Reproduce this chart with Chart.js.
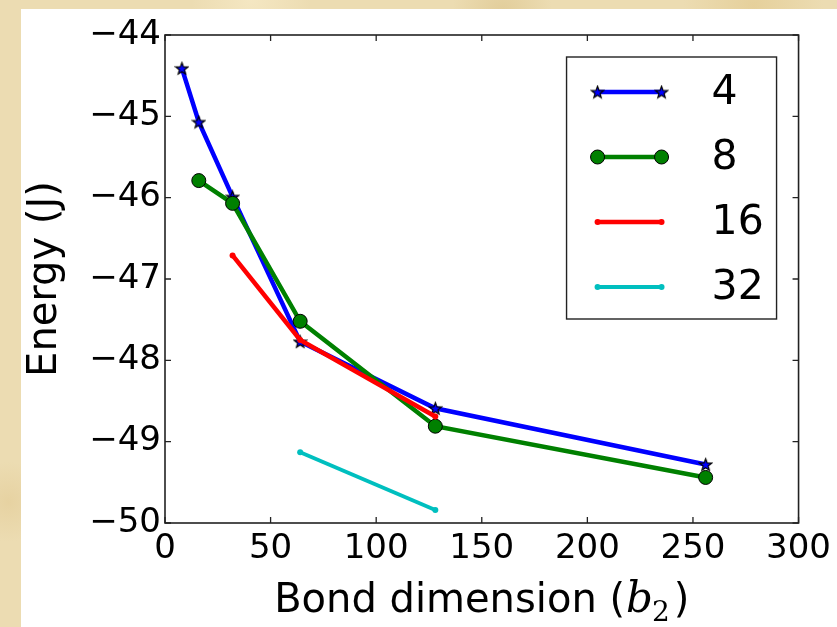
<!DOCTYPE html>
<html>
<head>
<meta charset="utf-8">
<script src="https://cdn.jsdelivr.net/npm/chart.js@4/dist/chart.umd.min.js"></script>
<style>
  html, body { margin: 0; padding: 0; }
  body {
    width: 837px; height: 627px; overflow: hidden; position: relative;
    background-color: #ecdcb2;
    background-image:
      radial-gradient(circle at 10% 20%, rgba(255,245,215,0.6) 0, rgba(255,245,215,0) 60px),
      radial-gradient(circle at 60% 2%, rgba(215,190,130,0.5) 0, rgba(215,190,130,0) 50px),
      radial-gradient(circle at 90% 1%, rgba(225,200,140,0.6) 0, rgba(225,200,140,0) 70px),
      radial-gradient(circle at 1% 80%, rgba(225,200,145,0.5) 0, rgba(225,200,145,0) 40px),
      radial-gradient(circle at 30% 0%, rgba(250,238,205,0.6) 0, rgba(250,238,205,0) 60px);
  }
  #panel { position: absolute; left: 21px; top: 9px; right: 0; bottom: 0; background: #ffffff; }
  #wrap { position: absolute; left: 0; top: 0; width: 837px; height: 627px; }
</style>
</head>
<body>
<div id="panel"></div>
<div id="wrap"><canvas id="c" width="837" height="627"></canvas></div>
<script>
// ---- data ----
const seriesLabels = ['4', '8', '16', '32'];
const bondDims4 = [8, 16, 32, 64, 128, 256];
const energy4   = [-44.41, -45.07, -45.99, -47.77, -48.59, -49.28];
const bondDims8 = [16, 32, 64, 128, 256];
const energy8   = [-45.79, -46.07, -47.52, -48.81, -49.44];
const bondDims16 = [32, 64, 128];
const energy16   = [-46.71, -47.75, -48.69];
const bondDims32 = [64, 128];
const energy32   = [-49.13, -49.84];
const xTicks = [0, 50, 100, 150, 200, 250, 300];
const yTicks = [-50, -49, -48, -47, -46, -45, -44];
const xTitleParts = ['Bond dimension (', 'b', '2', ')'];
const yTitle = 'Energy (J)';

const pts = (xs, ys) => xs.map((x, i) => ({ x: x, y: ys[i] }));
const minus = v => (v < 0 ? '\u2212' : '') + Math.abs(v);

// filled five-pointed star marker (matplotlib '*')
function makeStar(size, fill) {
  const c = document.createElement('canvas');
  c.width = size; c.height = size;
  const g = c.getContext('2d');
  const cx = size / 2, cy = size / 2 + 0.6, R = size / 2 - 1.2, r = R * 0.42;
  g.beginPath();
  for (let i = 0; i < 10; i++) {
    const a = -Math.PI / 2 + i * Math.PI / 5;
    const rad = i % 2 === 0 ? R : r;
    const px = cx + rad * Math.cos(a), py = cy + rad * Math.sin(a);
    i === 0 ? g.moveTo(px, py) : g.lineTo(px, py);
  }
  g.closePath();
  g.fillStyle = fill; g.fill();
  g.lineWidth = 1.2; g.strokeStyle = '#000'; g.stroke();
  return c;
}
const starImg = makeStar(15, '#0000ff');

const datasets = [
  { label: seriesLabels[0], data: pts(bondDims4, energy4), showLine: true,
    borderColor: '#0000ff', borderWidth: 4.5, pointStyle: starImg, pointRadius: 7,
    backgroundColor: '#0000ff', order: 4 },
  { label: seriesLabels[1], data: pts(bondDims8, energy8), showLine: true,
    borderColor: '#008000', borderWidth: 4.5, pointStyle: 'circle', pointRadius: 7,
    pointBackgroundColor: '#008000', pointBorderColor: '#000000', pointBorderWidth: 1,
    backgroundColor: '#008000', order: 3 },
  { label: seriesLabels[2], data: pts(bondDims16, energy16), showLine: true,
    borderColor: '#ff0000', borderWidth: 4.5, pointStyle: 'circle', pointRadius: 3,
    pointBackgroundColor: '#ff0000', pointBorderColor: '#ff0000', pointBorderWidth: 0,
    backgroundColor: '#ff0000', order: 2 },
  { label: seriesLabels[3], data: pts(bondDims32, energy32), showLine: true,
    borderColor: '#00bfbf', borderWidth: 4, pointStyle: 'circle', pointRadius: 3,
    pointBackgroundColor: '#00bfbf', pointBorderColor: '#00bfbf', pointBorderWidth: 0,
    backgroundColor: '#00bfbf', order: 1 }
];

// frame + inward ticks on all four sides (matplotlib style)
const framePlugin = {
  id: 'frame',
  afterDatasetsDraw(chart) {
    const { ctx, chartArea: a, scales } = chart;
    ctx.save();
    ctx.strokeStyle = '#222';
    ctx.lineWidth = 1.3;
    const L = 6;
    ctx.beginPath();
    xTicks.forEach(v => {
      const p = scales.x.getPixelForValue(v);
      ctx.moveTo(p, a.bottom); ctx.lineTo(p, a.bottom - L);
      ctx.moveTo(p, a.top); ctx.lineTo(p, a.top + L);
    });
    yTicks.forEach(v => {
      const p = scales.y.getPixelForValue(v);
      ctx.moveTo(a.left, p); ctx.lineTo(a.left + L, p);
      ctx.moveTo(a.right, p); ctx.lineTo(a.right - L, p);
    });
    ctx.stroke();
    ctx.lineWidth = 1.6;
    ctx.strokeRect(a.left, a.top, a.right - a.left, a.bottom - a.top);
    ctx.restore();
  }
};

// legend box inside the axes, upper right
const legendPlugin = {
  id: 'boxLegend',
  afterDraw(chart) {
    const { ctx, chartArea: a } = chart;
    const w = 210, h = 262;
    const bx = a.right - 22 - w, by = a.top + 22;
    ctx.save();
    ctx.fillStyle = '#fff';
    ctx.fillRect(bx, by, w, h);
    ctx.strokeStyle = '#222'; ctx.lineWidth = 1.4;
    ctx.strokeRect(bx, by, w, h);
    chart.data.datasets.forEach((ds, i) => {
      const y = by + 35 + i * 65;
      const x0 = bx + 31, x1 = bx + 95;
      ctx.strokeStyle = ds.borderColor;
      ctx.lineWidth = ds.borderWidth;
      ctx.beginPath(); ctx.moveTo(x0, y); ctx.lineTo(x1, y); ctx.stroke();
      [x0, x1].forEach(x => {
        if (ds.pointStyle instanceof HTMLCanvasElement) {
          ctx.drawImage(ds.pointStyle, x - ds.pointStyle.width / 2, y - ds.pointStyle.height / 2);
        } else {
          ctx.beginPath();
          ctx.arc(x, y, ds.pointRadius, 0, Math.PI * 2);
          ctx.fillStyle = ds.pointBackgroundColor; ctx.fill();
          if (ds.pointBorderWidth) {
            ctx.lineWidth = ds.pointBorderWidth; ctx.strokeStyle = ds.pointBorderColor; ctx.stroke();
          }
        }
      });
      ctx.fillStyle = '#000';
      ctx.font = '41px "DejaVu Sans"';
      ctx.textBaseline = 'middle';
      ctx.textAlign = 'left';
      ctx.fillText(ds.label, bx + 145, y + 1);
    });
    ctx.restore();
  }
};

// x-axis title with italic b and subscript 2
const xTitlePlugin = {
  id: 'xTitle',
  afterDraw(chart) {
    const { ctx, chartArea: a } = chart;
    const base = 612;
    const fN = '40px "DejaVu Sans"', fI = 'italic 42px "DejaVu Serif"', fS = '28px "DejaVu Serif"';
    ctx.save();
    ctx.fillStyle = '#000';
    ctx.textBaseline = 'alphabetic';
    ctx.textAlign = 'left';
    ctx.font = fN; const w0 = ctx.measureText(xTitleParts[0]).width;
    ctx.font = fI; const w1 = ctx.measureText(xTitleParts[1]).width;
    ctx.font = fS; const w2 = ctx.measureText(xTitleParts[2]).width;
    ctx.font = fN; const w3 = ctx.measureText(xTitleParts[3]).width;
    let x = (a.left + a.right) / 2 - (w0 + w1 + w2 + w3 + 4) / 2;
    ctx.font = fN; ctx.fillText(xTitleParts[0], x, base); x += w0 + 1;
    ctx.font = fI; ctx.fillText(xTitleParts[1], x, base); x += w1 - 1;
    ctx.font = fS; ctx.fillText(xTitleParts[2], x, base + 9); x += w2 + 4;
    ctx.font = fN; ctx.fillText(xTitleParts[3], x, base);
    ctx.restore();
  }
};

new Chart(document.getElementById('c'), {
  type: 'scatter',
  data: { datasets: datasets },
  options: {
    responsive: false,
    animation: false,
    events: [],
    layout: { padding: { left: 0, top: 35, right: 37, bottom: 0 } },
    plugins: { legend: { display: false }, tooltip: { enabled: false } },
    scales: {
      x: {
        type: 'linear', min: 0, max: 300,
        afterBuildTicks: s => { s.ticks = xTicks.map(v => ({ value: v })); },
        afterFit: s => { s.height = 104; },
        grid: { display: false, drawTicks: false },
        border: { display: false },
        ticks: { color: '#000', font: { family: 'DejaVu Sans', size: 34 }, padding: 6,
                 autoSkip: false, maxRotation: 0, callback: v => minus(v) },
        title: { display: false }
      },
      y: {
        type: 'linear', min: -50, max: -44,
        afterBuildTicks: s => { s.ticks = yTicks.map(v => ({ value: v })); },
        afterFit: s => { s.width = 165; },
        grid: { display: false, drawTicks: false },
        border: { display: false },
        ticks: { color: '#000', font: { family: 'DejaVu Sans', size: 34 }, padding: 4,
                 autoSkip: false, callback: v => minus(v) },
        title: { display: true, text: yTitle, color: '#000',
                 font: { family: 'DejaVu Sans', size: 40 }, padding: { top: 22, bottom: 0 } }
      }
    }
  },
  plugins: [framePlugin, legendPlugin, xTitlePlugin]
});
</script>
</body>
</html>
